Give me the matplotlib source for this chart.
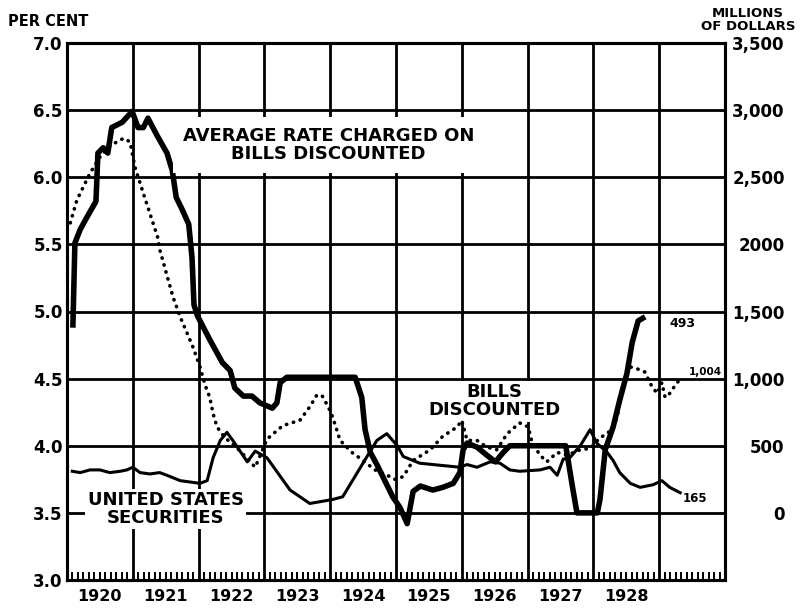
import matplotlib.pyplot as plt
from matplotlib.ticker import FixedLocator

# time in years after 1 January 1920
years = ["1920", "1921", "1922", "1923", "1924", "1925", "1926", "1927", "1928"]

# average rate charged on bills discounted (per cent, left scale)
rate_t = [0.09, 0.12, 0.20, 0.30, 0.44, 0.47, 0.55, 0.62, 0.68, 0.84, 0.99,
          1.08, 1.16, 1.23, 1.37, 1.52, 1.60, 1.66, 1.75, 1.85, 1.90, 1.93,
          1.98, 2.17, 2.36, 2.48, 2.55, 2.68, 2.81, 2.93, 3.12, 3.19, 3.24,
          3.34, 4.38, 4.48, 4.53, 4.61, 4.71, 4.83, 4.95, 5.06, 5.17, 5.26,
          5.37, 5.56, 5.71, 5.87, 5.97, 6.02, 6.08, 6.23, 6.38, 6.51, 6.63,
          6.73, 7.58, 7.68, 7.75, 8.06, 8.10, 8.18, 8.30, 8.40, 8.51, 8.59,
          8.68, 8.75]
rate_pct = [4.90, 5.51, 5.61, 5.70, 5.82, 6.18, 6.22, 6.18, 6.37, 6.41, 6.49,
            6.37, 6.37, 6.44, 6.31, 6.18, 6.05, 5.85, 5.76, 5.65, 5.40, 5.05,
            4.97, 4.79, 4.62, 4.56, 4.43, 4.37, 4.37, 4.32, 4.28, 4.32, 4.47,
            4.51, 4.51, 4.36, 4.12, 3.95, 3.86, 3.74, 3.62, 3.54, 3.42, 3.66,
            3.70, 3.67, 3.69, 3.72, 3.80, 3.97, 4.02, 3.99, 3.93, 3.88, 3.95,
            4.00, 4.00, 3.70, 3.50, 3.50, 3.60, 3.97, 4.14, 4.34, 4.54, 4.77,
            4.93, 4.95]

# bills discounted (millions of dollars, right scale)
bills_t = [0.05, 0.15, 0.35, 0.50, 0.65, 0.81, 0.88, 0.96, 1.03, 1.16, 1.26,
           1.38, 1.41, 1.61, 1.72, 1.91, 2.02, 2.10, 2.17, 2.22, 2.28, 2.40,
           2.55, 2.71, 2.86, 2.93, 3.04, 3.28, 3.54, 3.69, 3.80, 3.88, 3.97,
           4.04, 4.15, 4.33, 4.50, 4.68, 4.83, 4.98, 5.11, 5.26, 5.52, 5.71,
           5.93, 6.00, 6.08, 6.23, 6.38, 6.53, 6.69, 6.88, 7.01, 7.07, 7.19,
           7.29, 7.45, 7.60, 7.80, 7.95, 8.10, 8.21, 8.30, 8.36, 8.43, 8.53,
           8.63, 8.78, 8.89, 8.97, 9.04, 9.09, 9.16, 9.27, 9.35]
bills_mil = [2160, 2330, 2530, 2650, 2730, 2780, 2790, 2760, 2580, 2380, 2230,
             2050, 1960, 1610, 1460, 1240, 1090, 950, 860, 740, 640, 560,
             500, 420, 340, 420, 550, 650, 690, 790, 880, 870, 790,
             710, 540, 450, 390, 320, 290, 250, 270, 390, 470, 570,
             640, 690, 540, 540, 490, 470, 590, 670, 640, 520, 430,
             380, 450, 430, 470, 480, 560, 590, 640, 710, 900, 1090,
             1080, 1050, 940, 890, 970, 860, 890, 970, 1004]

# United States securities (millions of dollars, right scale)
secur_t = [0.08, 0.20, 0.35, 0.50, 0.65, 0.81, 0.91, 1.00, 1.11, 1.26, 1.41,
           1.57, 1.72, 1.87, 2.02, 2.13, 2.22, 2.33, 2.43, 2.52, 2.74, 2.86,
           3.04, 3.39, 3.69, 4.04, 4.19, 4.56, 4.71, 4.86, 5.02, 5.11, 5.36,
           5.56, 5.97, 6.08, 6.23, 6.43, 6.58, 6.73, 6.88, 7.19, 7.34, 7.45,
           7.54, 7.64, 7.80, 7.95, 8.05, 8.21, 8.30, 8.40, 8.56, 8.71, 8.91,
           9.04, 9.16, 9.32]
secur_mil = [310, 300, 320, 320, 300, 310, 320, 340, 300, 290, 300,
             270, 240, 230, 220, 240, 410, 540, 600, 540, 380, 460,
             410, 170, 70, 100, 120, 420, 540, 590, 500, 420, 370,
             360, 340, 360, 340, 380, 370, 320, 310, 320, 340, 280,
             400, 410, 500, 620, 520, 450, 390, 300, 220, 190, 210,
             240, 190, 150]

pct_ticks = [3.0, 3.5, 4.0, 4.5, 5.0, 5.5, 6.0, 6.5, 7.0]
pct_labels = ["3.0", "3.5", "4.0", "4.5", "5.0", "5.5", "6.0", "6.5", "7.0"]
mil_ticks = [0, 500, 1000, 1500, 2000, 2500, 3000, 3500]
mil_labels = ["0", "500", "1,000", "1,500", "2000", "2,500", "3,000", "3,500"]

bold = dict(family="DejaVu Sans", fontweight="bold")

fig = plt.figure(figsize=(8.04, 6.09), dpi=100)
ax = fig.add_axes([67 / 804, 29 / 609, 658 / 804, 537 / 609])
ax2 = ax.twinx()

ax.set_xlim(0, 10)
ax.set_ylim(3.0, 7.0)
ax2.set_ylim(-500, 3500)

# year boundaries as grid, months as small inward ticks
ax.xaxis.set_major_locator(FixedLocator(range(11)))
ax.xaxis.set_minor_locator(FixedLocator([m / 12 for m in range(121)]))
ax.tick_params(axis="x", which="major", length=0, labelbottom=False)
ax.tick_params(axis="x", which="minor", direction="in", length=6, width=1.4)
ax.set_yticks(pct_ticks)
ax.set_yticklabels(pct_labels, fontsize=12, **bold)
ax.tick_params(axis="y", length=0, pad=3)
ax.grid(True, which="major", color="black", linewidth=2.0)

ax2.set_yticks(mil_ticks)
ax2.set_yticklabels(mil_labels, fontsize=12, **bold)
ax2.tick_params(axis="y", length=0, pad=43)
for lab in ax2.get_yticklabels():
    lab.set_horizontalalignment("right")

for sp in list(ax.spines.values()) + list(ax2.spines.values()):
    sp.set_linewidth(2.2)

for i, yr in enumerate(years):
    ax.text(i + 0.5, -0.03, yr, transform=ax.get_xaxis_transform(),
            ha="center", va="center", fontsize=11.5, **bold)

ax.plot(rate_t, rate_pct, color="black", linewidth=4.0,
        solid_joinstyle="round", zorder=4)
ax2.plot(bills_t, bills_mil, color="black", linewidth=2.6,
         linestyle=(0, (0.1, 1.9)), dash_capstyle="round", zorder=3)
ax2.plot(secur_t, secur_mil, color="black", linewidth=2.2, zorder=3)

box = dict(facecolor="white", edgecolor="none", pad=1.5)
ax.text(3.97, 6.24, "AVERAGE RATE CHARGED ON\nBILLS DISCOUNTED", ha="center",
        va="center", fontsize=13, linespacing=1.05, zorder=5,
        bbox=dict(facecolor="white", edgecolor="none", pad=7), **bold)
ax.text(6.49, 4.33, "BILLS\nDISCOUNTED", ha="center", va="center",
        fontsize=13, linespacing=1.0, bbox=box, zorder=5, **bold)
ax.text(1.50, 3.53, "UNITED STATES\nSECURITIES", ha="center", va="center",
        fontsize=13, linespacing=1.0, bbox=box, zorder=5, **bold)
ax.text(9.36, 4.91, "493", ha="center", va="center", fontsize=9, **bold)
ax.text(9.70, 4.55, "1,004", ha="center", va="center", fontsize=7.5, **bold)
ax.text(9.54, 3.61, "165", ha="center", va="center", fontsize=8.5, **bold)

fig.text(8 / 804, 1 - 22 / 609, "PER CENT", ha="left", va="center",
         fontsize=10.5, **bold)
fig.text(748 / 804, 1 - 20 / 609, "MILLIONS\nOF DOLLARS", ha="center",
         va="center", fontsize=9.5, linespacing=0.95, **bold)

fig.savefig("out.png", dpi=100)
